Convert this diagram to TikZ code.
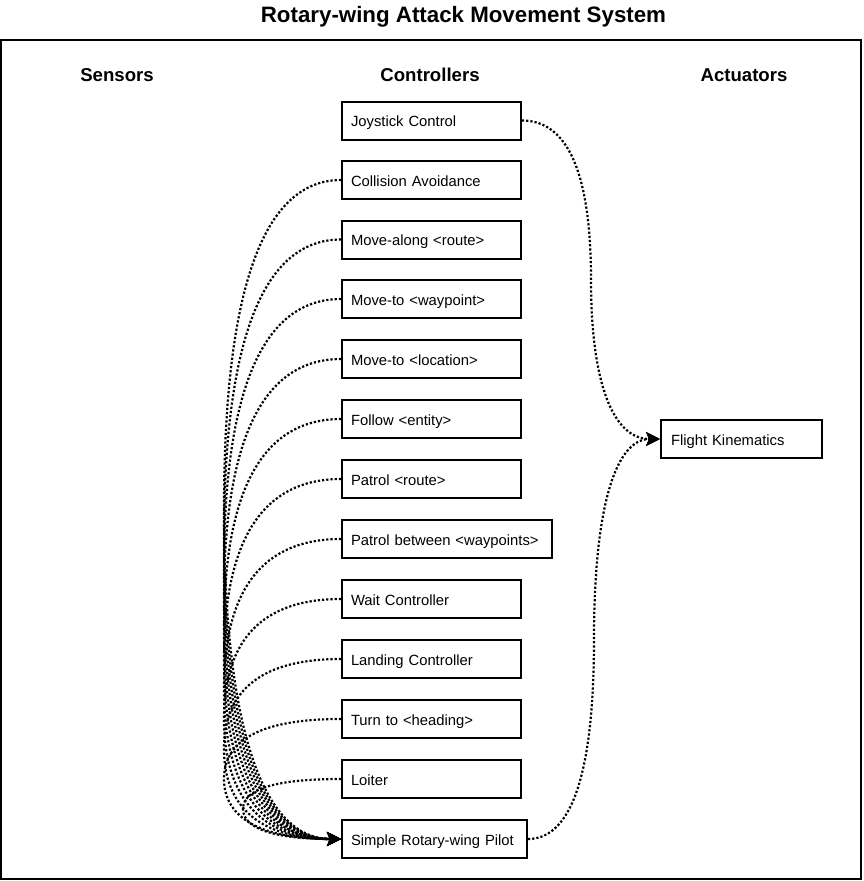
\documentclass[tikz,border=0pt]{standalone}
\usepackage{fontspec}
\setmainfont{Liberation Sans}
\usetikzlibrary{arrows.meta,calc}
\begin{document}
\begin{tikzpicture}[x=1pt,y=-1pt,
  box/.style={draw, line width=2pt, rectangle, minimum height=38pt, inner xsep=9pt, inner ysep=0pt,
    anchor=west, align=left, font=\fontsize{14.8pt}{17pt}\selectfont, text height=15.4pt, text depth=3pt},
  link/.style={line width=2.2pt, dash pattern=on 2.2pt off 2pt, -{Stealth[length=14pt,width=14pt,inset=3pt]}},
  head/.style={font=\bfseries\fontsize{18.6pt}{20pt}\selectfont, anchor=base},
]
\useasboundingbox (0,0) rectangle (863,881);

% title and frame
\node[font=\bfseries\fontsize{22.3pt}{24pt}\selectfont, anchor=base] (title) at (463.5,22) {Rotary-wing Attack Movement System};
\draw[line width=2pt] (1,40) rectangle (861,879);

% column headers
\node[head] (hsens) at (117,81) {Sensors};
\node[head] (hctrl) at (430,81) {Controllers};
\node[head] (hact) at (744,81) {Actuators};

% controllers
\node[box, text width=161pt] (joy)   at (341,120.5) {Joystick Control};
\node[box, text width=161pt] (coll)  at (341,180)   {Collision Avoidance};
\node[box, text width=161pt] (along) at (341,239.5) {Move-along <route>};
\node[box, text width=161pt] (wp)    at (341,299)   {Move-to <waypoint>};
\node[box, text width=161pt] (loc)   at (341,359)   {Move-to <location>};
\node[box, text width=161pt] (foll)  at (341,419)   {Follow <entity>};
\node[box, text width=161pt] (pat)   at (341,479)   {Patrol <route>};
\node[box, text width=192pt] (patb)  at (341,539)   {Patrol between <waypoints>};
\node[box, text width=161pt] (wait)  at (341,599)   {Wait Controller};
\node[box, text width=161pt] (land)  at (341,659)   {Landing Controller};
\node[box, text width=161pt] (turn)  at (341,719)   {Turn to <heading>};
\node[box, text width=161pt] (loit)  at (341,779)   {Loiter};
\node[box, text width=167pt] (pilot) at (341,839)   {Simple Rotary-wing Pilot};

% actuator
\node[box, text width=141pt, inner xsep=10pt] (fk) at (660,439) {Flight Kinematics};

% controllers -> pilot (left side)
\foreach \s/\xb in {coll/224, along/224, wp/224, loc/224, foll/224, pat/224, patb/224, wait/224, land/224, turn/224, loit/243}{
  \coordinate (bx) at (\xb,0);
  \coordinate (A) at (\s.west -| bx);
  \coordinate (B) at (pilot.west -| bx);
  \coordinate (M) at ($(A)!0.5!(B)$);
  \draw[link] (\s.west) .. controls ($(\s.west)!2/3!(A)$) and ($(M)!2/3!(A)$) .. (M)
    .. controls ($(M)!2/3!(B)$) and ($(pilot.west)!2/3!(B)$) .. (pilot.west);
}

% joystick -> flight kinematics
\coordinate (M1) at ($(joy.east)!0.5!(fk.west)$);
\coordinate (A1) at (joy.east -| M1);
\coordinate (B1) at (fk.west -| M1);
\draw[link] (joy.east) .. controls ($(joy.east)!2/3!(A1)$) and ($(M1)!2/3!(A1)$) .. (M1)
  .. controls ($(M1)!2/3!(B1)$) and ($(fk.west)!2/3!(B1)$) .. (fk.west);

% pilot -> flight kinematics
\coordinate (M2) at ($(pilot.east)!0.5!(fk.west)$);
\coordinate (A2) at (pilot.east -| M2);
\coordinate (B2) at (fk.west -| M2);
\draw[link] (pilot.east) .. controls ($(pilot.east)!2/3!(A2)$) and ($(M2)!2/3!(A2)$) .. (M2)
  .. controls ($(M2)!2/3!(B2)$) and ($(fk.west)!2/3!(B2)$) .. (fk.west);
\end{tikzpicture}
\end{document}
